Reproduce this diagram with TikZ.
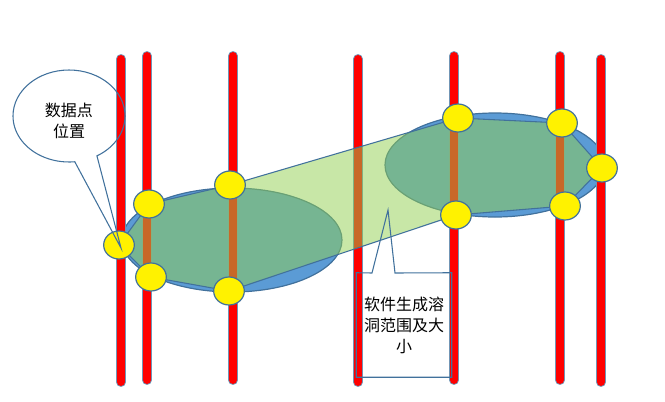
\documentclass[tikz,border=0pt]{standalone}
\usepackage{fontspec}
\newfontfamily\cjk{Noto Sans CJK SC}
\usetikzlibrary{shapes.geometric,shapes.callouts}
\definecolor{edgeblue}{HTML}{41719C}
\definecolor{zoneblue}{HTML}{5B9BD5}
\definecolor{hullgreen}{HTML}{92D050}

\begin{document}
\begin{tikzpicture}[x=.75pt,y=-.75pt,
    zone/.style={ellipse,draw=edgeblue,fill=zoneblue,line width=.9pt,
      minimum width=165pt,minimum height=78pt,inner sep=0pt},
    rodedge/.style={draw=edgeblue!75,line width=7.4pt,line cap=round},
    rodcore/.style={draw=red,line width=6pt,line cap=round},
    datapt/.style={ellipse,draw=edgeblue,fill=yellow,line width=.9pt,
      minimum width=23pt,minimum height=21pt,inner sep=0pt},
    hull/.style={draw=edgeblue,fill=hullgreen,fill opacity=.5,line width=.8pt},
    noteline/.style={draw=edgeblue,line width=.8pt},
    notetext/.style={align=center,inner sep=0pt,
      font=\cjk\fontsize{12}{15.75}\selectfont}]
  \useasboundingbox (0,0) rectangle (665,401);

  \node[zone] (z1) at (232,240) {};
  \node[zone] (z2) at (495,165) {};

  \foreach \x/\ya/\yb in {121/59/382,147/56/380,233/56/380,358/59/382,
                          454/56/380,560/56/380,601/59/382} {
    \draw[rodedge] (\x,\ya) -- (\x,\yb);
    \draw[rodcore] (\x,\ya) -- (\x,\yb);
  }

  \coordinate (p1) at (119,245);
  \coordinate (p2) at (149,204);
  \coordinate (p3) at (230,185);
  \coordinate (p4) at (458,118);
  \coordinate (p5) at (562,123);
  \coordinate (p6) at (602,168);
  \coordinate (p7) at (565,206);
  \coordinate (p8) at (456,215);
  \coordinate (p9) at (229,291);
  \coordinate (p10) at (151,277);

  \draw[hull] (p1) -- (p2) -- (p3) -- (p4) -- (p5) -- (p6) -- (p7) -- (p8)
    -- (p9) -- (p10) -- cycle;

  \foreach \n in {1,...,10}
    \node[datapt] (d\n) at (p\n) {};

  % left note
  \node[noteline,ellipse callout,minimum width=84pt,minimum height=69pt,inner sep=0pt,
    callout pointer arc=24,callout absolute pointer={(121,248)}] (c1) at (69,116) {};
  \node[notetext] (t1) at (69,120.5) {数据点\\位置};

  % lower note
  \node[notetext,minimum width=71.25pt,minimum height=78pt] (c2) at (404,325)
    {软件生成溶\\洞范围及大\\小};
  \coordinate (c2tip) at (388,210);
  \coordinate (c2l) at (372,273);
  \coordinate (c2r) at (395,273);
  \draw[noteline] (c2.north west) -- (c2l) -- (c2tip) -- (c2r) -- (c2.north east)
    -- (c2.south east) -- (c2.south west) -- cycle;
\end{tikzpicture}
\end{document}
